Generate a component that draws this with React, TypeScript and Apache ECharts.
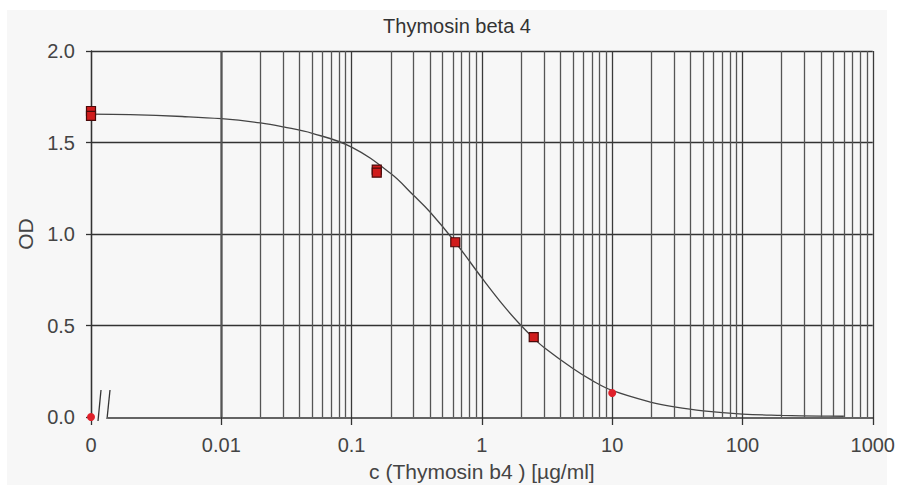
import React, { useEffect, useRef } from "react";
import * as echarts from "echarts";

// ---- texts ----
const TITLE = "Thymosin beta 4";
const X_NAME = "c (Thymosin b4 ) [µg/ml]";
const Y_NAME = "OD";

// ---- axes ----
const X_MIN = 0.001; // drawn and labelled as "0" (axis break)
const X_MAX = 1000;
const Y_MIN = 0;
const Y_MAX = 2;
const Y_STEP = 0.5;
// minor log grid lines: decades x multipliers
const DECADES = [0.001, 0.01, 0.1, 1, 10, 100];
const MULTIPLIERS = [2, 3, 4, 5, 6, 7, 8, 9];

// ---- measured standards (squares) ----
const SQUARE_X = [0.001, 0.001, 0.156, 0.156, 0.625, 2.5];
const SQUARE_Y = [1.672, 1.646, 1.352, 1.335, 0.955, 0.436];
// ---- single points (circles) ----
const CIRCLE_X = [0.001, 10];
const CIRCLE_Y = [0.0, 0.131];

// ---- fitted curve ----
const CURVE_X = [0.001, 0.002, 0.005, 0.01, 0.02, 0.03, 0.05, 0.1, 0.2, 0.3, 0.4, 0.625, 1, 1.5, 2, 2.5, 3, 5, 7, 10, 20, 30, 50, 100, 200, 400, 600];
const CURVE_Y = [1.655, 1.652, 1.642, 1.63, 1.607, 1.585, 1.55, 1.475, 1.33, 1.21, 1.12, 0.955, 0.76, 0.6, 0.5, 0.43, 0.38, 0.265, 0.2, 0.145, 0.08, 0.055, 0.033, 0.016, 0.009, 0.005, 0.004];

const FONT = "'Liberation Sans', Arial, sans-serif";

export default function App() {
  const ref = useRef<HTMLDivElement>(null);

  useEffect(() => {
    if (!ref.current) return;
    const chart = echarts.init(ref.current, undefined, { renderer: "svg" });

    const minorLines: { xAxis: number }[] = [];
    DECADES.forEach((d) => MULTIPLIERS.forEach((m) => minorLines.push({ xAxis: d * m })));

    const option: any = {
      animation: false,
      title: {
        text: TITLE,
        left: 452,
        textAlign: "center",
        top: 11,
        textStyle: { fontFamily: FONT, fontSize: 20, fontWeight: "normal", color: "#333" },
      },
      grid: { left: 91, right: 24, top: 51, bottom: 69 },
      xAxis: {
        type: "log",
        logBase: 10,
        min: X_MIN,
        max: X_MAX,
        name: X_NAME,
        nameLocation: "middle",
        nameGap: 44,
        nameTextStyle: { fontFamily: FONT, fontSize: 21, color: "#444" },
        axisLine: { show: false },
        axisTick: { show: true, length: 8, lineStyle: { color: "#333", width: 1.3 } },
        axisLabel: {
          show: true,
          showMinLabel: true,
          showMaxLabel: true,
          margin: 18,
          fontFamily: FONT,
          fontSize: 20,
          color: "#444",
          formatter: (v: number) => {
            const e = Math.round(Math.log10(v));
            if (e <= -3) return "0";
            if (e < 0) return (Math.pow(10, e)).toFixed(-e);
            return String(Math.round(Math.pow(10, e)));
          },
        },
        splitLine: { show: true, lineStyle: { color: "#3a3a3a", width: 1.3 } },
      },
      yAxis: {
        type: "value",
        min: Y_MIN,
        max: Y_MAX,
        interval: Y_STEP,
        name: Y_NAME,
        nameLocation: "middle",
        nameGap: 48,
        nameTextStyle: { fontFamily: FONT, fontSize: 21, color: "#444" },
        axisLine: { show: true, lineStyle: { color: "#333", width: 1.3 } },
        axisTick: { show: true, length: 5, lineStyle: { color: "#333", width: 1.3 } },
        axisLabel: {
          margin: 16,
          fontFamily: FONT,
          fontSize: 20,
          color: "#444",
          formatter: (v: number) => v.toFixed(1),
        },
        splitLine: { show: true, showMinLine: false, lineStyle: { color: "#333", width: 1.3 } },
      },
      graphic: [
        { type: "line", shape: { x1: 108, y1: 418, x2: 874, y2: 418 }, style: { stroke: "#333", lineWidth: 1.3 }, z: 1 },
        { type: "line", shape: { x1: 101, y1: 390, x2: 98, y2: 421 }, style: { stroke: "#333", lineWidth: 1.3 }, z: 1 },
        { type: "line", shape: { x1: 110, y1: 390, x2: 107, y2: 419 }, style: { stroke: "#333", lineWidth: 1.3 }, z: 1 },
      ],
      series: [
        {
          type: "line",
          data: [],
          silent: true,
          markLine: {
            silent: true,
            symbol: "none",
            label: { show: false },
            lineStyle: { color: "#555", width: 1.3, type: "solid" },
            data: minorLines,
          },
          z: 1,
        },
        {
          type: "line",
          data: CURVE_X.map((x, i) => [x, CURVE_Y[i]]),
          showSymbol: false,
          smooth: 0.4,
          lineStyle: { color: "#444", width: 1.3 },
          silent: true,
          z: 3,
        },
        {
          type: "scatter",
          data: SQUARE_X.map((x, i) => [x, SQUARE_Y[i]]),
          symbol: "rect",
          symbolSize: 9,
          clip: false,
          itemStyle: { color: "#d01c1c", borderColor: "#4a0a0a", borderWidth: 1.2, opacity: 1 },
          z: 5,
        },
        {
          type: "scatter",
          data: CIRCLE_X.map((x, i) => [x, CIRCLE_Y[i]]),
          symbol: "circle",
          symbolSize: 8,
          clip: false,
          itemStyle: { color: "#e0202a", opacity: 1 },
          z: 5,
        },
      ],
    };

    chart.setOption(option);
    return () => chart.dispose();
  }, []);

  return (
    <div style={{ position: "fixed", left: 0, top: 0, width: 898, height: 487, background: "#ffffff" }}>
      <div style={{ position: "absolute", left: 7, top: 10, width: 880, height: 475, background: "#f7f7f7" }} />
      <div ref={ref} style={{ position: "absolute", left: 0, top: 0, width: 898, height: 487 }} />
    </div>
  );
}
